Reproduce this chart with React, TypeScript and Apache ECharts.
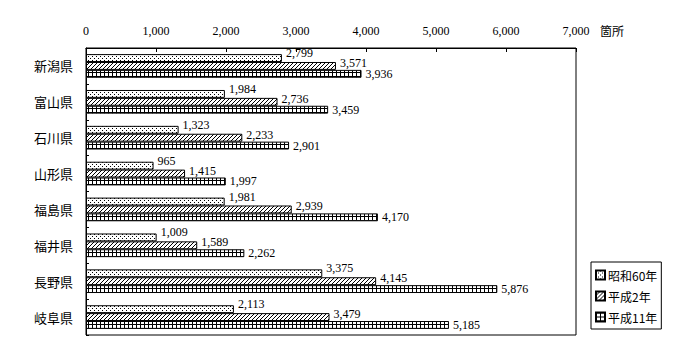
import React, { useEffect, useRef } from "react";
import * as echarts from "echarts";

const categories = ["新潟県", "富山県", "石川県", "山形県", "福島県", "福井県", "長野県", "岐阜県"];
const seriesNames = ["昭和60年", "平成2年", "平成11年"];
const s60 = [2799, 1984, 1323, 965, 1981, 1009, 3375, 2113];
const h2 = [3571, 2736, 2233, 1415, 2939, 1589, 4145, 3479];
const h11 = [3936, 3459, 2901, 1997, 4170, 2262, 5876, 5185];
const unitLabel = "箇所";

function makePattern(kind: string) {
  const c = document.createElement("canvas");
  c.width = 4;
  c.height = 4;
  const ctx = c.getContext("2d")!;
  ctx.fillStyle = "#fff";
  ctx.fillRect(0, 0, 4, 4);
  ctx.fillStyle = "#000";
  if (kind === "dots") {
    ctx.fillRect(0, 0, 1, 1);
    ctx.fillRect(2, 2, 1, 1);
  } else if (kind === "hatch") {
    ctx.fillRect(3, 0, 1, 1);
    ctx.fillRect(2, 1, 1, 1);
    ctx.fillRect(1, 2, 1, 1);
    ctx.fillRect(0, 3, 1, 1);
  } else {
    ctx.fillRect(0, 0, 4, 1);
    ctx.fillRect(0, 0, 1, 4);
  }
  return { image: c, repeat: "repeat" } as any;
}

const fmt = (v: number) => v.toLocaleString("en-US");
const numFont = "'Liberation Serif', 'Noto Sans CJK JP', serif";
const jpFont = "'Noto Sans CJK JP', sans-serif";
const labelOffsets = [-5, -3, 0];

export default function App() {
  const ref = useRef<HTMLDivElement>(null);
  useEffect(() => {
    if (!ref.current) return;
    const chart = echarts.init(ref.current, undefined, { renderer: "svg" });
    const patterns = [makePattern("dots"), makePattern("hatch"), makePattern("grid")];
    const datas = [s60, h2, h11];
    chart.setOption({
      animation: false,
      backgroundColor: "#fff",
      grid: {
        left: 86,
        right: 124,
        top: 48,
        bottom: 25,
        show: true,
        borderColor: "#000",
        borderWidth: 1,
        backgroundColor: "transparent",
      },
      graphic: [
        {
          type: "text",
          left: 600,
          top: 24,
          style: { text: unitLabel, font: "12px 'Noto Sans CJK JP', sans-serif", fill: "#000" },
        },
      ],
      legend: {
        orient: "vertical",
        left: 591,
        top: 262,
        borderColor: "#000",
        borderWidth: 1,
        padding: [7, 4, 6, 4],
        itemWidth: 9,
        itemHeight: 9,
        itemGap: 9,
        icon: "rect",
        textStyle: { fontFamily: jpFont, fontSize: 12, color: "#000", padding: [0, 0, 0, -2] },
        data: seriesNames,
      },
      xAxis: {
        type: "value",
        position: "top",
        min: 0,
        max: 7000,
        interval: 1000,
        axisLine: { show: true, lineStyle: { color: "#000", width: 1 } },
        axisTick: { show: true, inside: true, length: 4, lineStyle: { color: "#000" } },
        axisLabel: {
          fontFamily: numFont,
          fontSize: 12,
          color: "#000",
          margin: 11,
          formatter: (v: number) => fmt(v),
        },
        splitLine: { show: false },
      },
      yAxis: {
        type: "category",
        data: categories,
        inverse: true,
        axisLine: { show: true, lineStyle: { color: "#000", width: 1 } },
        axisTick: { show: true, inside: true, length: 3, lineStyle: { color: "#000" } },
        axisLabel: { fontFamily: jpFont, fontSize: 13, color: "#000", margin: 13 },
        splitLine: { show: false },
      },
      series: seriesNames.map((name, i) => ({
        name,
        type: "bar",
        data: datas[i],
        barGap: "0%",
        barCategoryGap: "34%",
        itemStyle: { color: patterns[i], borderColor: "#000", borderWidth: 1 },
        label: {
          show: true,
          position: "right",
          distance: 4,
          offset: [0, labelOffsets[i]],
          fontFamily: numFont,
          fontSize: 12,
          color: "#000",
          formatter: (p: any) => fmt(p.value),
        },
      })),
    });
    return () => chart.dispose();
  }, []);
  return (
    <div
      ref={ref}
      style={{ position: "absolute", left: 0, top: 0, width: 700, height: 360 }}
    />
  );
}
